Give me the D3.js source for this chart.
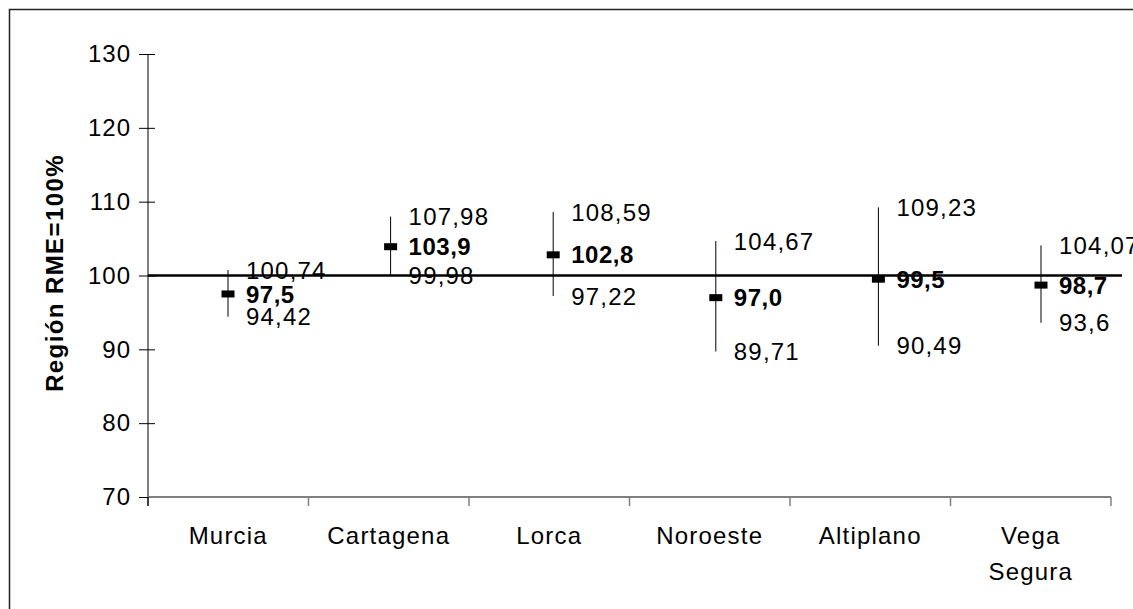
<!DOCTYPE html>
<html>
<head>
<meta charset="utf-8">
<script src="https://cdn.jsdelivr.net/npm/d3@7"></script>
<style>
  body { margin: 0; background: #fff; }
  svg { display: block; font-family: "Liberation Sans", Arial, sans-serif; }
</style>
</head>
<body>
<svg id="chart" width="1133" height="609"></svg>
<script>
// datos: índice por área de salud (Región RME = 100%)
let categories = ['Murcia', 'Cartagena', 'Lorca', 'Noroeste', 'Altiplano', 'Vega Segura'];
let means = [97.5, 103.9, 102.8, 97.0, 99.5, 98.7];
let uppers = [100.74, 107.98, 108.59, 104.67, 109.23, 104.07];
let lowers = [94.42, 99.98, 97.22, 89.71, 90.49, 93.6];
let meanLabels = ['97,5', '103,9', '102,8', '97,0', '99,5', '98,7'];
let upperLabels = ['100,74', '107,98', '108,59', '104,67', '109,23', '104,07'];
let lowerLabels = ['94,42', '99,98', '97,22', '89,71', '90,49', '93,6'];
let yTicks = [70, 80, 90, 100, 110, 120, 130];

let svg = d3.select('#chart');

// marco exterior
svg.append('rect')
    .attr('x', 9.5).attr('y', 9.5)
    .attr('width', 1140).attr('height', 620)
    .style('fill', 'none')
    .style('stroke', '#222')
    .style('stroke-width', '1.5px');

let mLeft = 148, mRight = 1111, mTop = 54, mBottom = 497;

let y = d3.scaleLinear().domain([70, 130]).range([mBottom, mTop]);
let xBand = d3.scaleBand().domain(categories).range([mLeft, mRight]);
let xPoint = d3.scalePoint().domain(categories).range([228, 1041]);

// eje Y
let yAxis = svg.append('g')
    .attr('transform', 'translate(' + mLeft + ',0)')
    .call(d3.axisLeft(y).tickValues(yTicks).tickSize(9).tickPadding(8));
yAxis.select('.domain').remove();
yAxis.append('line')
    .attr('x1', 0).attr('x2', 0)
    .attr('y1', mTop).attr('y2', mBottom)
    .style('stroke', '#000');
yAxis.selectAll('.tick line').attr('x2', -9).clone().attr('x2', 7);
yAxis.selectAll('.tick line').style('stroke', '#000');
yAxis.selectAll('.tick text')
    .style('font-size', '24px')
    .style('letter-spacing', '1px')
    .style('fill', '#000');

// eje X
let xAxis = svg.append('g')
    .attr('transform', 'translate(0,' + mBottom + ')');
xAxis.append('line')
    .attr('x1', mLeft).attr('x2', mRight)
    .style('stroke', '#808080').style('stroke-width', '2px');
let bounds = categories.map(d => xBand(d)).concat([mRight]);
xAxis.selectAll('.xtick').data(bounds).enter().append('line')
    .attr('x1', d => d).attr('x2', d => d)
    .attr('y1', 0).attr('y2', 9)
    .style('stroke', (d, i) => i === 0 ? '#000' : '#808080')
    .style('stroke-width', '1.5px');

xAxis.selectAll('.xlabel').data(categories).enter().append('text')
    .attr('x', d => xBand(d) + xBand.bandwidth() / 2)
    .attr('y', 47)
    .style('text-anchor', 'middle')
    .style('font-size', '24px')
    .style('letter-spacing', '1.2px')
    .each(function (d) {
        let words = d.split(' ');
        let t = d3.select(this);
        words.forEach((w, i) => {
            t.append('tspan')
                .attr('x', xBand(d) + xBand.bandwidth() / 2)
                .attr('dy', i === 0 ? 0 : 36)
                .text(w);
        });
    });

// título eje Y
svg.append('text')
    .attr('transform', 'translate(63,273) rotate(-90)')
    .style('text-anchor', 'middle')
    .style('font-size', '24px')
    .style('letter-spacing', '1.4px')
    .style('font-weight', 'bold')
    .text('Región RME=100%');

// línea de referencia 100
svg.append('line')
    .attr('x1', mLeft).attr('x2', 1122)
    .attr('y1', y(100)).attr('y2', y(100))
    .style('stroke', '#000')
    .style('stroke-width', '2.5px');

// intervalos
let g = svg.append('g');
g.selectAll('.ci').data(categories).enter().append('line')
    .attr('x1', d => xPoint(d)).attr('x2', d => xPoint(d))
    .attr('y1', (d, i) => y(uppers[i]))
    .attr('y2', (d, i) => y(lowers[i]))
    .style('stroke', '#000')
    .style('stroke-width', '1px');

g.selectAll('.mean').data(categories).enter().append('rect')
    .attr('x', d => xPoint(d) - 6.5)
    .attr('y', (d, i) => y(means[i]) - 3.5)
    .attr('width', 13).attr('height', 7)
    .style('fill', '#000');

function labels(arr, vals, bold) {
    g.selectAll('.lab').data(categories).enter().append('text')
        .attr('x', d => xPoint(d) + 18)
        .attr('y', (d, i) => y(vals[i]))
        .attr('dy', '0.36em')
        .style('font-size', '24px')
        .style('letter-spacing', bold ? '0.5px' : '1.2px')
        .style('font-weight', bold ? 'bold' : 'normal')
        .text((d, i) => arr[i]);
}
labels(upperLabels, uppers, false);
labels(meanLabels, means, true);
labels(lowerLabels, lowers, false);
</script>
</body>
</html>
